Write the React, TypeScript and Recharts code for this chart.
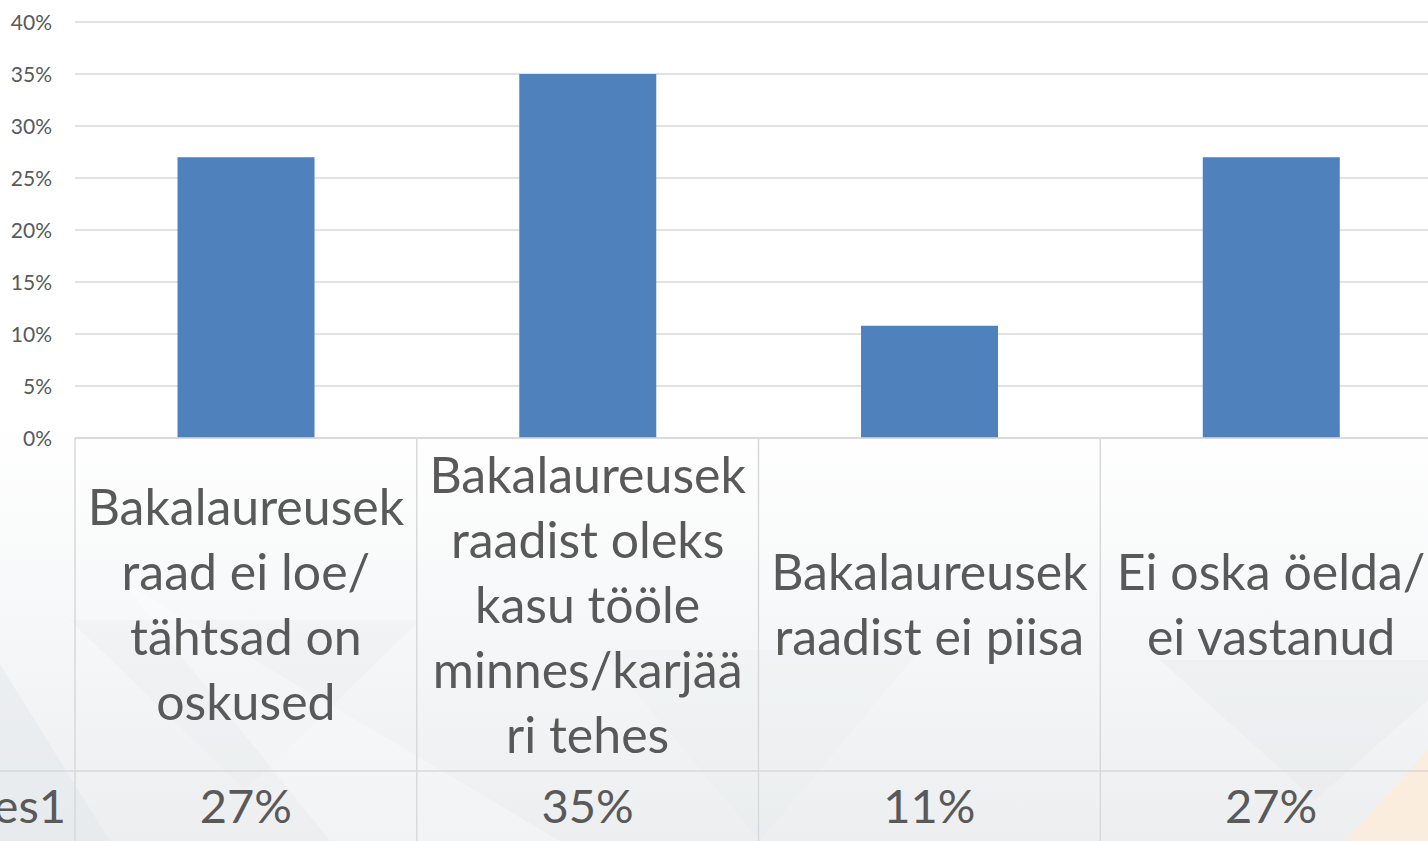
import React from 'react';
import { BarChart, Bar, XAxis, YAxis, CartesianGrid } from 'recharts';

const categories = [
  'Bakalaureusek\nraad ei loe/\ntähtsad on\noskused',
  'Bakalaureusek\nraadist oleks\nkasu tööle\nminnes/karjää\nri tehes',
  'Bakalaureusek\nraadist ei piisa',
  'Ei oska öelda/\nei vastanud',
];
const seriesName = 'Series1';
const values = [27, 35, 10.8, 27];
const yTicks = [0, 5, 10, 15, 20, 25, 30, 35, 40];

const data = categories.map((c, i) => ({ name: c, value: values[i] }));

const CHART_W = 1442;
const CHART_H = 850;
const PLOT_LEFT = 75;
const PLOT_TOP = 22;
const PLOT_BOTTOM = 438;
const ROW_Y = 771;
const BAND = (CHART_W - PLOT_LEFT) / categories.length;
const FONT = 'Lato, "Open Sans", sans-serif';
const TEXT = '#595959';
const LINE = '#d9d9d9';
const CAT_SIZE = 50;
const VAL_SIZE = 47;
const LH = 65;

function CategoryTick(props: any) {
  const { x, y, payload, index } = props;
  const lines = String(payload.value).split('\n');
  const cy = (PLOT_BOTTOM + ROW_Y) / 2 + 1;
  const start = cy - ((lines.length - 1) * LH) / 2;
  return (
    <g>
      <line x1={x - BAND / 2} x2={x - BAND / 2} y1={y} y2={CHART_H} stroke={LINE} strokeWidth={1.5} />
      {index === 0 && (
        <g>
          <line x1={0} x2={CHART_W} y1={ROW_Y} y2={ROW_Y} stroke={LINE} strokeWidth={1.5} />
          <text x={66} y={823} textAnchor="end" fill={TEXT} fontFamily={FONT} fontSize={VAL_SIZE}>
            {seriesName}
          </text>
        </g>
      )}
      <text textAnchor="middle" fill={TEXT} fontFamily={FONT} fontSize={CAT_SIZE}>
        {lines.map((l, i) => (
          <tspan key={i} x={x} y={start + i * LH + 17}>
            {l}
          </tspan>
        ))}
      </text>
      <text x={x} y={823} textAnchor="middle" fill={TEXT} fontFamily={FONT} fontSize={VAL_SIZE}>
        {Math.round(values[index])}%
      </text>
    </g>
  );
}

function YTick(props: any) {
  const { y, payload } = props;
  return (
    <text x={52} y={y + 8} textAnchor="end" fill={TEXT} fontFamily={FONT} fontSize={21}>
      {payload.value}%
    </text>
  );
}

export default function App() {
  return (
    <div
      style={{
        position: 'absolute',
        left: 0,
        top: 0,
        width: 1428,
        height: 841,
        overflow: 'hidden',
        background: 'linear-gradient(180deg, #ffffff 0%, #ffffff 50%, #f7f8f9 72%, #eceef0 100%)',
      }}
    >
      <svg width={1428} height={841} style={{ position: 'absolute', left: 0, top: 0 }}>
        <polygon points="-40,600 110,841 -40,841" fill="#e3e6ea" opacity={0.45} />
        <polygon points="70,620 245,790 420,620" fill="#e8eaed" opacity={0.35} />
        <polygon points="120,580 330,841 560,841" fill="#ffffff" opacity={0.3} />
        <polygon points="600,650 760,841 920,650" fill="#e8eaed" opacity={0.2} />
        <polygon points="1160,660 1315,800 1428,700 1428,660" fill="#e6e8eb" opacity={0.35} />
        <polygon points="1428,750 1345,841 1428,841" fill="#fdecdb" opacity={0.85} />
      </svg>
      <div style={{ position: 'absolute', left: 0, top: 0 }}>
        <BarChart
          width={CHART_W}
          height={CHART_H}
          data={data}
          margin={{ top: PLOT_TOP, right: 0, bottom: 0, left: 0 }}
          barCategoryGap="30%"
        >
          <CartesianGrid vertical={false} stroke={LINE} strokeWidth={1.5} />
          <XAxis
            dataKey="name"
            height={CHART_H - PLOT_BOTTOM}
            interval={0}
            tickLine={false}
            tickSize={0}
            tickMargin={0}
            axisLine={{ stroke: LINE, strokeWidth: 1.5 }}
            tick={<CategoryTick />}
          />
          <YAxis
            width={PLOT_LEFT}
            domain={[0, 40]}
            ticks={yTicks}
            interval={0}
            axisLine={false}
            tickLine={false}
            tick={<YTick />}
          />
          <Bar dataKey="value" fill="#4f81bd" isAnimationActive={false} />
        </BarChart>
      </div>
    </div>
  );
}
